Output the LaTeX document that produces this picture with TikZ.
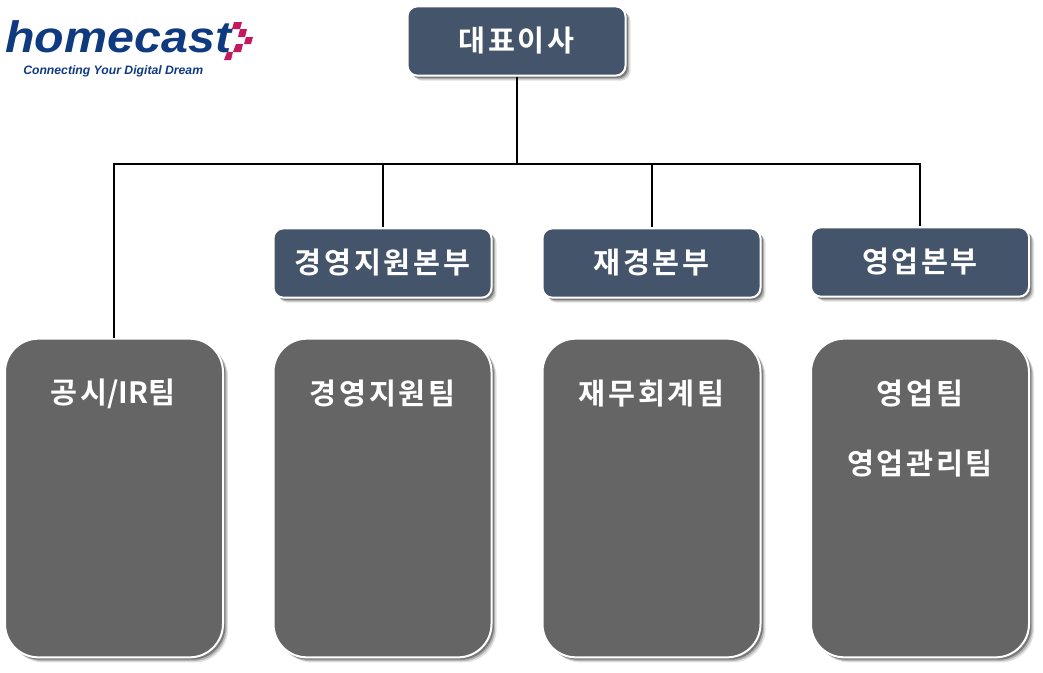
\documentclass[tikz,border=0pt]{standalone}
\usepackage{fontspec}
\setmainfont{Liberation Sans}
\newfontfamily\krfont[LetterSpace=9]{Noto Sans CJK KR Bold}
\newfontfamily\latinfont{Noto Sans CJK KR Bold}
\usetikzlibrary{shadows}
\definecolor{headblue}{HTML}{44546A}
\definecolor{teamgray}{HTML}{656565}
\definecolor{logoblue}{HTML}{0F3A80}
\definecolor{logopink}{HTML}{C4185F}
\begin{document}
\begin{tikzpicture}[x=0.75pt, y=-0.75pt,
		softshadow/.style={
			drop shadow={shadow xshift=3.8pt, shadow yshift=-3.8pt, fill=black, opacity=0.12},
			drop shadow={shadow xshift=2.8pt, shadow yshift=-2.8pt, fill=black, opacity=0.2},
			drop shadow={shadow xshift=1.8pt, shadow yshift=-1.8pt, fill=black, opacity=0.32}},
		headbox/.style={shape=rectangle, rounded corners=7.5pt, draw=white, line width=1.5pt, fill=headblue,
			minimum width=163.5pt, minimum height=52pt, text=white, font=\krfont\fontsize{22}{26}\selectfont, softshadow},
		teambox/.style={shape=rectangle, rounded corners=25pt, draw=white, line width=1.5pt, fill=teamgray,
			minimum width=163.5pt, minimum height=239pt, softshadow},
		teamtext/.style={text=white, font=\krfont\fontsize{22}{26}\selectfont},
		link/.style={draw=black, line width=1.5pt}]
		
		\useasboundingbox (0,0) rectangle (1043,672);
		
		% logo
		\node[text=logoblue, xscale=1.1, anchor=base west, inner sep=0pt, font=\fontsize{33}{33}\selectfont\bfseries\itshape] (logo) at (5,52) {homecast};
		\node[text=logoblue, anchor=base west, inner sep=0pt, font=\fontsize{9.15}{9.15}\selectfont\bfseries\itshape] (slogan) at (23,74) {Connecting Your Digital Dream};
		\fill[logopink] (234,22) -- (242,22) -- (240,29) -- (232,29) -- cycle;
		\fill[logopink] (240,29) -- (247,29) -- (245,37) -- (238,37) -- cycle;
		\fill[logopink] (246,37) -- (253,37) -- (251,44) -- (244,44) -- cycle;
		\fill[logopink] (236,44) -- (243,44) -- (241,52) -- (233,52) -- cycle;
		\fill[logopink] (227,52) -- (233,52) -- (231,60) -- (224,60) -- cycle;
		
		% top
		\node[headbox] (ceo) at (516.5,41) {대표이사};
		\coordinate (bus) at (516.5,163.5);
		
		% divisions
		\node[headbox] (support) at (382.5,263) {경영지원본부};
		\node[headbox] (finance) at (651.5,263) {재경본부};
		\node[headbox] (sales) at (920,262) {영업본부};
		
		% teams
		\node[teambox] (ir) at (114,498) {};
		\node[teambox] (supportteam) at (382.5,498) {};
		\node[teambox] (financeteam) at (651.5,498) {};
		\node[teambox] (salesteam) at (920,498) {};
		
		\node[teamtext] (irtext) at (113,394) {공시{\latinfont\fontsize{22}{26}\selectfont /IR}팀};
		\node[teamtext] (supporttext) at (382.5,394) {경영지원팀};
		\node[teamtext] (financetext) at (651.5,394) {재무회계팀};
		\node[teamtext] (salestext) at (920,394) {영업팀};
		\node[teamtext] (salesmgmt) at (920,464) {영업관리팀};
		
		% connectors
		\draw[link] (ceo) -- (bus);
		\draw[link] (bus) -| (ir);
		\draw[link] (bus) -| (support);
		\draw[link] (bus) -| (finance);
		\draw[link] (bus) -| (sales);
\end{tikzpicture}
\end{document}
